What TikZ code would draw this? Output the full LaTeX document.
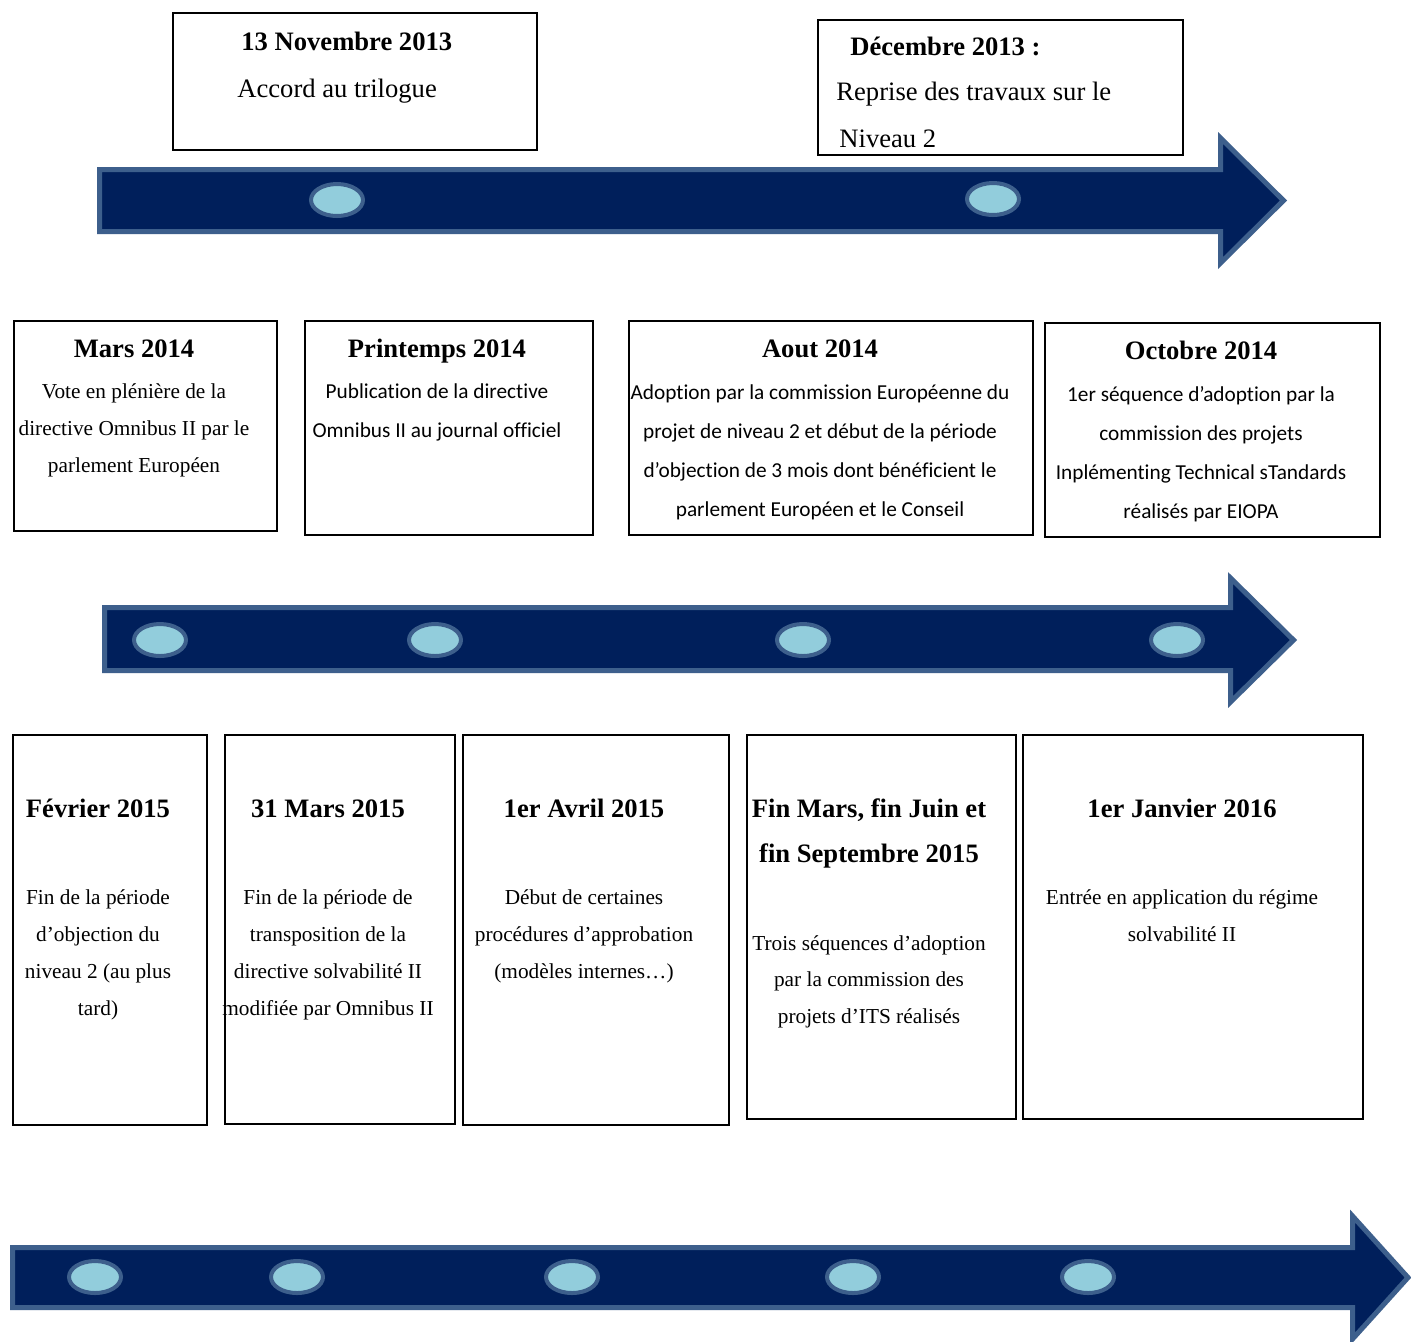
\documentclass[tikz,border=0pt]{standalone}
\usepackage{fontspec}
\setmainfont{Liberation Serif}
\newfontfamily\calfont[Ligatures={NoCommon}]{Carlito}
\usetikzlibrary{fit,shapes.geometric}
\definecolor{navy}{HTML}{001F5B}
\definecolor{arrowedge}{HTML}{3D5F8C}
\definecolor{dotfill}{HTML}{92CDDC}
\tikzset{
  bigarrow/.style={fill=navy, draw=arrowedge, line width=2.5pt, line join=miter},
  dotmark/.style={ellipse, fill=dotfill, draw=arrowedge, line width=2pt, minimum width=26pt, minimum height=16pt, inner sep=0pt},
  evbox/.style={draw=black, line width=0.9pt, inner sep=0pt},
  ttl/.style={font=\fontsize{13.3}{16}\selectfont\bfseries, inner sep=0pt, anchor=base},
  tbig/.style={font=\fontsize{13.3}{16}\selectfont, inner sep=0pt, anchor=base west},
  tms/.style={font=\fontsize{10.65}{13}\selectfont, inner sep=0pt, anchor=base},
  cal/.style={font=\calfont\fontsize{10.65}{13}\selectfont, inner sep=0pt, anchor=base},
}
\begin{document}
\begin{tikzpicture}[x=0.5pt,y=-0.5pt]
\useasboundingbox (0,0) rectangle (1411,1341);
\clip (0,0) rectangle (1411,1341);
\fill[white] (0,0) rectangle (1411,1341);

% ---- arrows ----
\draw[bigarrow] (99.5,169.5) -- (1220.5,169.5) -- (1220.5,138) -- (1283.5,200.5) -- (1220.5,263) -- (1220.5,231.5) -- (99.5,231.5) -- cycle;
\draw[bigarrow] (104.5,607.5) -- (1230.5,607.5) -- (1230.5,578) -- (1293.5,640) -- (1230.5,702) -- (1230.5,670.5) -- (104.5,670.5) -- cycle;
\draw[bigarrow] (12.5,1247.5) -- (1352.5,1247.5) -- (1352.5,1216) -- (1408,1277.5) -- (1352.5,1339) -- (1352.5,1307.5) -- (12.5,1307.5) -- cycle;

% ---- dots ----
\node[dotmark] (d11) at (337,200) {};
\node[dotmark] (d12) at (993,199) {};
\node[dotmark] (d21) at (160,640) {};
\node[dotmark] (d22) at (435,640) {};
\node[dotmark] (d23) at (803,640) {};
\node[dotmark] (d24) at (1177,640) {};
\node[dotmark] (d31) at (95,1277) {};
\node[dotmark] (d32) at (297,1277) {};
\node[dotmark] (d33) at (572,1277) {};
\node[dotmark] (d34) at (853,1277) {};
\node[dotmark] (d35) at (1088,1277) {};

% ---- row 1 ----
\node[evbox, fit={(173,13) (537,150)}] (b1) {};
\node[ttl, anchor=base west] (b1t) at (241,50) {13 Novembre 2013};
\node[tbig] (b1l1) at (237,97) {Accord au trilogue};

\node[evbox, fit={(818,20) (1183,155)}] (b2) {};
\node[ttl, anchor=base west] (b2t) at (850,55) {Décembre 2013 :};
\node[tbig] (b2l1) at (836,100) {Reprise des travaux sur le};
\node[tbig] (b2l2) at (839,147) {Niveau 2};

% ---- row 2 ----
\node[evbox, fit={(14,321) (277,531)}] (c1) {};
\node[ttl] (c1t) at (134,357) {Mars 2014};
\node[tms] (c1l1) at (134,398) {Vote en plénière de la};
\node[tms] (c1l2) at (134,435) {directive Omnibus II par le};
\node[tms] (c1l3) at (134,472) {parlement Européen};

\node[evbox, fit={(305,321) (593,535)}] (c2) {};
\node[ttl] (c2t) at (437,357) {Printemps 2014};
\node[cal] (c2l1) at (437,398) {Publication de la directive};
\node[cal] (c2l2) at (437,437) {Omnibus II au journal officiel};

\node[evbox, fit={(629,321) (1033,535)}] (c3) {};
\node[ttl] (c3t) at (820,357) {Aout 2014};
\node[cal] (c3l1) at (820,399) {Adoption par la commission Européenne du};
\node[cal] (c3l2) at (820,438) {projet de niveau 2 et début de la période};
\node[cal] (c3l3) at (820,477) {d’objection de 3 mois dont bénéficient le};
\node[cal] (c3l4) at (820,516) {parlement Européen et le Conseil};

\node[evbox, fit={(1045,323) (1380,537)}] (c4) {};
\node[ttl] (c4t) at (1201,359) {Octobre 2014};
\node[cal] (c4l1) at (1201,401) {1er séquence d’adoption par la};
\node[cal] (c4l2) at (1201,440) {commission des projets};
\node[cal] (c4l3) at (1201,479) {Inplémenting Technical sTandards};
\node[cal] (c4l4) at (1201,518) {réalisés par EIOPA};

% ---- row 3 ----
\node[evbox, fit={(13,735) (207,1125)}] (e1) {};
\node[ttl] (e1t) at (98,817) {Février 2015};
\node[tms] (e1l1) at (98,904) {Fin de la période};
\node[tms] (e1l2) at (98,941) {d’objection du};
\node[tms] (e1l3) at (98,978) {niveau 2 (au plus};
\node[tms] (e1l4) at (98,1015) {tard)};

\node[evbox, fit={(225,735) (455,1124)}] (e2) {};
\node[ttl] (e2t) at (328,817) {31 Mars 2015};
\node[tms] (e2l1) at (328,904) {Fin de la période de};
\node[tms] (e2l2) at (328,941) {transposition de la};
\node[tms] (e2l3) at (328,978) {directive solvabilité II};
\node[tms] (e2l4) at (328,1015) {modifiée par Omnibus II};

\node[evbox, fit={(463,735) (729,1125)}] (e3) {};
\node[ttl] (e3t) at (584,817) {1er Avril 2015};
\node[tms] (e3l1) at (584,904) {Début de certaines};
\node[tms] (e3l2) at (584,941) {procédures d’approbation};
\node[tms] (e3l3) at (584,978) {(modèles internes…)};

\node[evbox, fit={(747,735) (1016,1119)}] (e4) {};
\node[ttl] (e4t) at (869,817) {Fin Mars, fin Juin et};
\node[ttl] (e4t2) at (869,862) {fin Septembre 2015};
\node[tms] (e4l1) at (869,950) {Trois séquences d’adoption};
\node[tms] (e4l2) at (869,986) {par la commission des};
\node[tms] (e4l3) at (869,1023) {projets d’ITS réalisés};

\node[evbox, fit={(1023,735) (1363,1119)}] (e5) {};
\node[ttl] (e5t) at (1182,817) {1er Janvier 2016};
\node[tms] (e5l1) at (1182,904) {Entrée en application du régime};
\node[tms] (e5l2) at (1182,941) {solvabilité II};
\end{tikzpicture}
\end{document}
